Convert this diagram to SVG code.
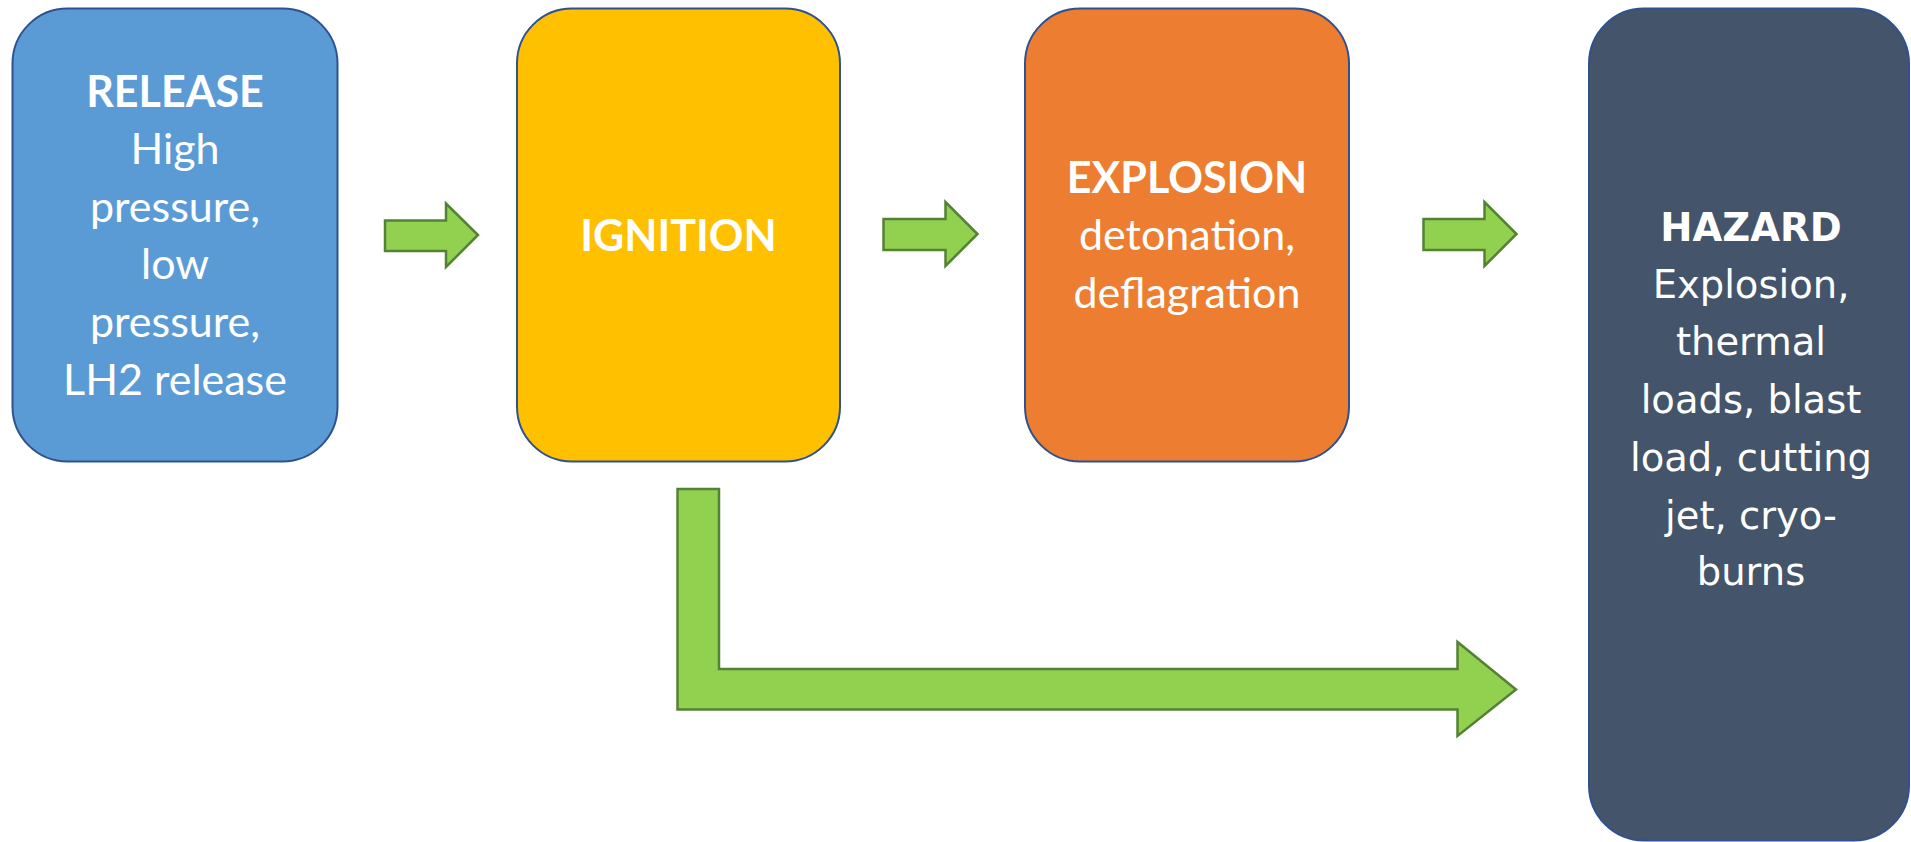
<svg xmlns="http://www.w3.org/2000/svg" width="1911" height="842" viewBox="0 0 1911 842">
<style>
.box{stroke:#2F528F;stroke-width:2}
.arr{fill:#92D050;stroke:#548235;stroke-width:2.5;stroke-linejoin:miter}
.t{font-family:Lato,"Open Sans",sans-serif;font-size:43px;fill:#fff;text-anchor:middle}
.h{font-family:"DejaVu Sans",Verdana,sans-serif;font-size:38.5px;fill:#fff;text-anchor:middle}
.b{font-weight:bold}
</style>
<rect width="1911" height="842" fill="#fff"/>
<g id="release">
<rect class="box" x="12.5" y="8.5" width="325" height="453" rx="55" fill="#5B9BD5"/>
<text class="t"><tspan class="b" x="175" y="107">RELEASE</tspan><tspan x="175" y="164">High</tspan><tspan x="175" y="222">pressure,</tspan><tspan x="175" y="279">low</tspan><tspan x="175" y="337">pressure,</tspan><tspan x="175" y="395">LH2 release</tspan></text>
</g>
<g id="ignition">
<rect class="box" x="517" y="8.5" width="323" height="453" rx="55" fill="#FFC000"/>
<text class="t b" x="678.5" y="251">IGNITION</text>
</g>
<g id="explosion">
<rect class="box" x="1025" y="8.5" width="324" height="453" rx="55" fill="#ED7D31"/>
<text class="t"><tspan class="b" x="1187" y="193">EXPLOSION</tspan><tspan x="1187" y="250">detonation,</tspan><tspan x="1187" y="308">deflagration</tspan></text>
</g>
<g id="hazard">
<rect class="box" x="1589" y="8.5" width="320" height="832" rx="55" fill="#44546A"/>
<text class="h"><tspan class="b" x="1751" y="241">HAZARD</tspan><tspan x="1751" y="298">Explosion,</tspan><tspan x="1751" y="355">thermal</tspan><tspan x="1751" y="413">loads, blast</tspan><tspan x="1751" y="471">load, cutting</tspan><tspan x="1751" y="529">jet, cryo-</tspan><tspan x="1751" y="585">burns</tspan></text>
</g>
<g id="connectors">
<path class="arr" d="M385,220.5 H446 V203.5 L478,235 L446,267 V251 H385 Z"/>
<path class="arr" d="M883.5,219 H945.5 V202 L977.5,234 L945.5,266 V250 H883.5 Z"/>
<path class="arr" d="M1423.5,219 H1484.5 V202 L1516.5,234 L1484.5,266 V250 H1423.5 Z"/>
<path class="arr" d="M677.5,489 H719 V669 H1457.5 V642 L1516,689.5 L1457.5,736 V709.5 H677.5 Z"/>
</g>
</svg>
